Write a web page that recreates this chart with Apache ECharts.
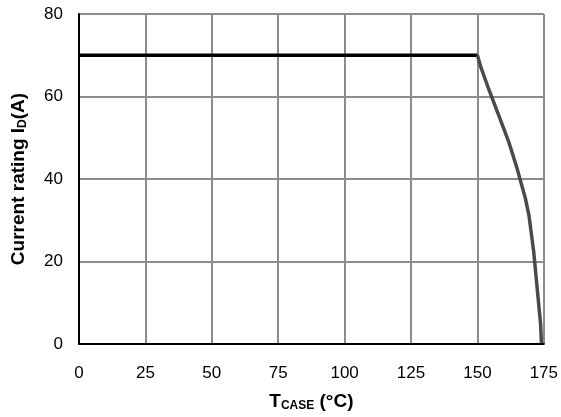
<!DOCTYPE html>
<html><head><meta charset="utf-8">
<script src="https://cdn.jsdelivr.net/npm/echarts@6/dist/echarts.min.js"></script>
<style>html,body{margin:0;padding:0;background:#fff}#c{width:561px;height:417px}</style>
</head><body><div id="c"></div>
<script>
const flatT = [0, 150];
const flatI = [70, 70];
const curveT = [150, 151.2, 154.3, 158.1, 161.9, 165.0, 168.1, 169.4, 171.2, 172.5, 173.8, 174.1];
const curveI = [70, 67.3, 61.7, 55.3, 48.8, 42.4, 35.2, 31.2, 22.3, 13.5, 4.7, 0.2];
const xTicks = [0, 25, 50, 75, 100, 125, 150, 175];
const yTicks = [0, 20, 40, 60, 80];

const chart = echarts.init(document.getElementById('c'));
const font = 'Liberation Sans, Arial, sans-serif';
chart.setOption({
  animation: false,
  grid: {left: 79, right: 16, top: 14, bottom: 71},
  xAxis: {
    type: 'value', min: 0, max: 175, interval: 25,
    axisLine: {show: true, onZero: false, lineStyle: {color: '#000', width: 2}},
    axisTick: {show: false},
    splitLine: {show: true, lineStyle: {color: '#8c8c8c', width: 2}},
    axisLabel: {color: '#000', fontSize: 17, fontFamily: font, margin: 21,
      formatter: v => xTicks.includes(v) ? String(v) : ''},
    name: '{b|T}{s|CASE}{b| (°C)}',
    nameLocation: 'middle', nameGap: 48,
    nameTextStyle: {rich: {
      b: {fontSize: 19, fontWeight: 'bold', fontFamily: font, color: '#000'},
      s: {fontSize: 12, fontWeight: 'bold', fontFamily: font, color: '#000', padding: [8, 0, 0, 0]}
    }}
  },
  yAxis: {
    type: 'value', min: 0, max: 80, interval: 20,
    axisLine: {show: true, lineStyle: {color: '#000', width: 2}},
    axisTick: {show: false},
    splitLine: {show: true, lineStyle: {color: '#8c8c8c', width: 2}},
    axisLabel: {color: '#000', fontSize: 17, fontFamily: font, margin: 16,
      formatter: v => yTicks.includes(v) ? String(v) : ''},
    name: '{b|Current rating I}{s|D}{b|(A)}',
    nameLocation: 'middle', nameGap: 50, nameRotate: 90,
    nameTextStyle: {rich: {
      b: {fontSize: 19, fontWeight: 'bold', fontFamily: font, color: '#000'},
      s: {fontSize: 12, fontWeight: 'bold', fontFamily: font, color: '#000', padding: [8, 0, 0, 0]}
    }}
  },
  series: [
    {type: 'line', data: flatT.map((t, i) => [t, flatI[i]]), symbol: 'none',
      lineStyle: {color: '#000', width: 3.5}},
    {type: 'line', data: curveT.map((t, i) => [t, curveI[i]]), symbol: 'none',
      lineStyle: {color: '#4a4a4a', width: 3.5, join: 'round'}}
  ]
});
</script></body></html>
